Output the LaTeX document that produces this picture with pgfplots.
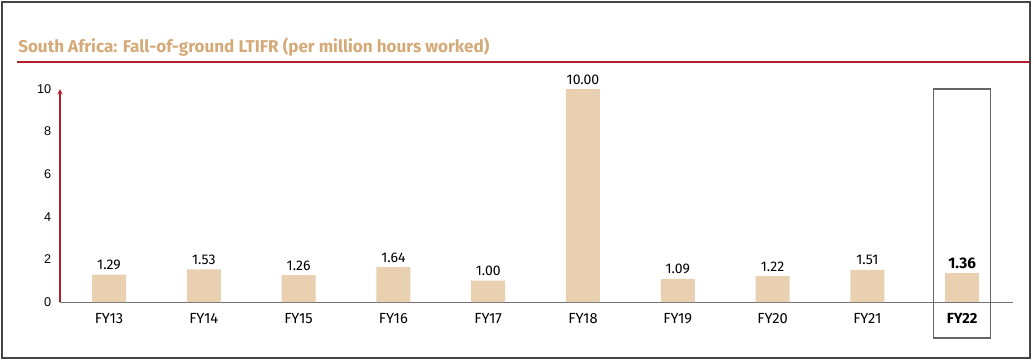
\documentclass[border=0pt]{standalone}
\usepackage{fontspec}
\setmainfont{Fira Sans}
\newfontfamily\arialf{Liberation Sans}
\usepackage{pgfplots}
\pgfplotsset{compat=1.18}
\definecolor{barc}{RGB}{233,208,176}
\definecolor{titc}{RGB}{212,170,120}
\definecolor{redc}{RGB}{178,30,45}
\definecolor{framec}{RGB}{70,70,70}
\begin{document}
\begin{tikzpicture}[x=0.75pt,y=0.75pt]
\path[use as bounding box] (0,0) rectangle (1034,-362);
\draw[framec,line width=1.5pt] (2,-2) rectangle (1030,-358);
\node[anchor=base west,inner sep=0pt,text=titc,font=\fontsize{12.8}{15}\selectfont\bfseries] at (18,-52) {South Africa: Fall-of-ground LTIFR (per million hours worked)};
\draw[redc,line width=1.5pt] (17,-62) -- (1030,-62);
\begin{axis}[
  at={(45pt,-226.5pt)}, anchor=south west,
  scale only axis, width=715pt, height=159.75pt,
  xmin=-0.517, xmax=9.54, ymin=0, ymax=10,
  axis x line=bottom, axis y line=left,
  x axis line style={draw=black!55,-, line width=0.6pt},
  y axis line style={draw=redc,-stealth, line width=0.8pt},
  xtick={0,...,9},
  xticklabels={FY13,FY14,FY15,FY16,FY17,FY18,FY19,FY20,FY21,\textbf{FY22}},
  ytick={0,2,...,10},
  major tick length=0pt,
  tick label style={font=\fontsize{11}{13}\selectfont},
  yticklabel style={font=\arialf\fontsize{9.5}{11}\selectfont, xshift=-3pt},
  xticklabel style={yshift=-5pt},
  /pgf/number format/assume math mode=true,
  clip=false,
  ybar, bar width=25.5pt, bar shift=0pt,
  nodes near coords,
  nodes near coords style={font=\fontsize{10.5}{12}\selectfont, /pgf/number format/fixed, /pgf/number format/fixed zerofill, /pgf/number format/precision=2},
]
\addplot[fill=barc, draw=none] coordinates {(0,1.29) (1,1.53) (2,1.26) (3,1.64) (4,1.00) (5,10.00) (6,1.09) (7,1.22) (8,1.51)};
\addplot[fill=barc, draw=none, nodes near coords style={font=\fontsize{11.5}{13}\selectfont\bfseries}] coordinates {(9,1.36)};
\draw[black!60, line width=0.9pt] (axis cs:8.70,10) rectangle (axis cs:9.30,-1.69);
\end{axis}
\end{tikzpicture}
\end{document}
